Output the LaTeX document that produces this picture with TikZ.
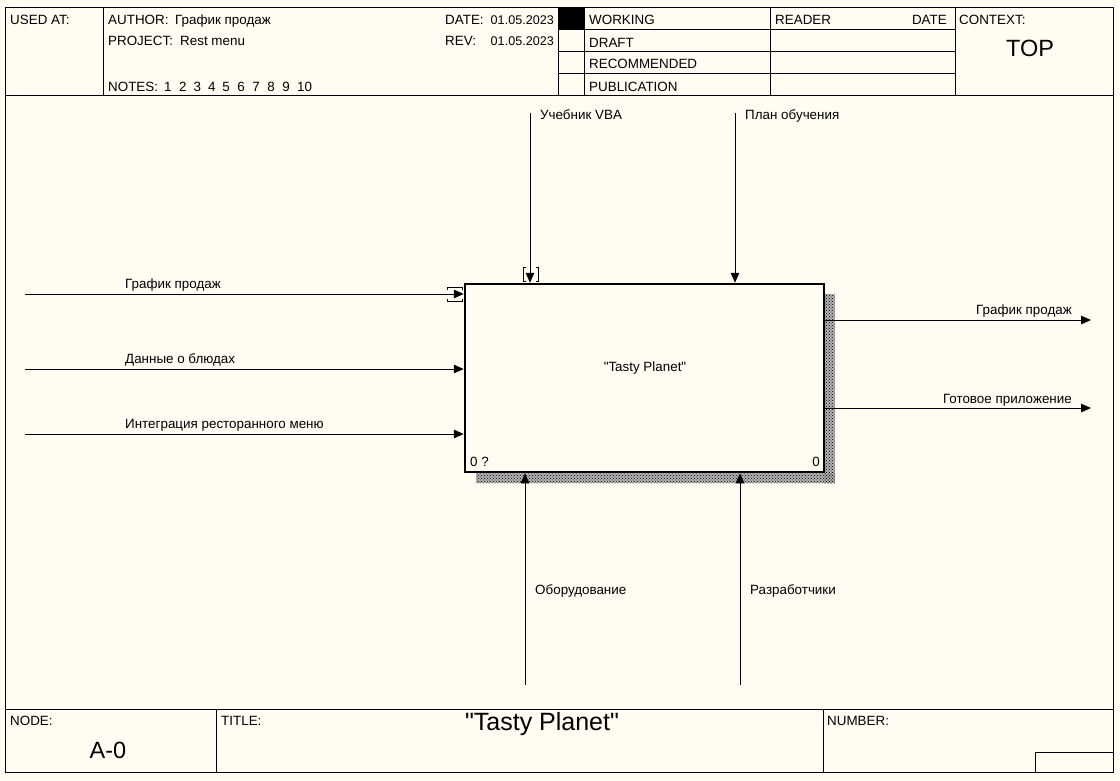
\documentclass[tikz,border=0pt]{standalone}
\usepackage{fontspec}
\setmainfont{Liberation Sans}
\newfontfamily\plainfont{Liberation Sans}
\usetikzlibrary{arrows.meta,patterns}
\definecolor{bg}{HTML}{FFFCF2}
\tikzset{
  txt/.style={font=\fontsize{13.4}{15}\selectfont, inner sep=0pt, anchor=base west},
  txtr/.style={txt, anchor=base east},
  datetxt/.style={font=\fontsize{12.6}{15}\selectfont, inner sep=0pt, anchor=base east},
  big/.style={font=\fontsize{23.5}{26}\selectfont, inner sep=0pt, anchor=base},
  frame/.style={line width=1pt},
  arr/.style={line width=1pt, -{Triangle[length=10pt,width=8.5pt]}},
  tun/.style={line width=1pt},
  shadowbase/.style={fill=black!30},
  shadow/.style={pattern=crosshatch dots, pattern color=black},
}
\begin{document}
\begin{tikzpicture}[x=1pt,y=-1pt]
\useasboundingbox (0,0) rectangle (1120,780);
\fill[bg] (0,0) rectangle (1120,780);
% outer frame
\draw[frame] (5,7) rectangle (1113,772);
\draw[frame] (5,95) -- (1113,95);
\draw[frame] (5,709) -- (1113,709);
% header grid
\draw[frame] (103,7) -- (103,95);
\draw[frame] (558,7) -- (558,95);
\draw[frame] (584,7) -- (584,95);
\draw[frame] (770,7) -- (770,95);
\draw[frame] (955,7) -- (955,95);
\draw[frame] (558,29) -- (955,29);
\draw[frame] (558,51) -- (955,51);
\draw[frame] (558,73) -- (955,73);
\fill[black] (559,7.5) rectangle (584,29);
% footer grid
\draw[frame] (216,709) -- (216,772);
\draw[frame] (823,709) -- (823,772);
\draw[frame] (1035,772) -- (1035,752) -- (1113,752);
% header text
\node[txt] (usedat) at (10,24) {USED AT:};
\node[txt] (author) at (108,24) {AUTHOR:};
\node[txt] (authorv) at (175,24) {График продаж};
\node[txt] (project) at (108,45) {PROJECT:};
\node[txt] (projectv) at (180,45) {Rest menu};
\node[txt] (notes) at (108,91) {NOTES:};
\node[txt] (notesv) at (164,91) {1\hspace{7.5pt}2\hspace{7pt}3\hspace{7pt}4\hspace{7pt}5\hspace{7.5pt}6\hspace{7.5pt}7\hspace{7.5pt}8\hspace{7.5pt}9\hspace{7.5pt}10};
\node[txt] (date) at (445,24) {DATE:};
\node[datetxt] (datev) at (554,24) {01.05.2023};
\node[txt] (rev) at (445,45) {REV:};
\node[datetxt] (revv) at (554,45) {01.05.2023};
\node[txt] (working) at (589,24) {WORKING};
\node[txt] (draft) at (589,47) {DRAFT};
\node[txt] (recommended) at (589,68) {RECOMMENDED};
\node[txt] (publication) at (589,91) {PUBLICATION};
\node[txt] (reader) at (775,24) {READER};
\node[txtr] (rdate) at (947,24) {DATE};
\node[txt] (context) at (959,24) {CONTEXT:};
\node[big] (top) at (1030,56) {TOP};
% footer text
\node[txt] (node) at (10,725) {NODE:};
\node[big] (nodev) at (108,758) {A-0};
\node[txt] (title) at (221,725) {TITLE:};
\node[big, font=\fontsize{25}{27}\plainfont] (titlev) at (542,730) {"Tasty Planet"};
\node[txt] (number) at (827,725) {NUMBER:};
% shadow
\fill[shadowbase] (824,294) rectangle (835,483);
\fill[shadowbase] (476,472) rectangle (835,483);
\fill[shadow] (824,294) rectangle (835,483);
\fill[shadow] (476,472) rectangle (835,483);
% main box
\node[draw, fill=bg, line width=2.5pt, minimum width=359pt, minimum height=188pt, inner sep=0pt] (A0) at (644.5,378) {};
\node[txt, anchor=center, font=\fontsize{13.4}{15}\plainfont] (A0t) at (645,368) {"Tasty Planet"};
\node[txt] (A0n) at (470,466) {0 ?};
\node[txtr] (A0c) at (820,466) {0};
% controls
\coordinate (c1) at (530,113);
\coordinate (c2) at (735,113);
\draw[arr] (c1) -- (c1 |- A0.north);
\draw[arr] (c2) -- (c2 |- A0.north);
\node[txt] (c1l) at (540,119) {Учебник VBA};
\node[txt] (c2l) at (745,119) {План обучения};
\draw[tun] (525.5,267) -- (523,267) -- (523,281) -- (525.5,281);
\draw[tun] (535.5,267) -- (538,267) -- (538,281) -- (535.5,281);
% inputs
\coordinate (i1) at (25,294);
\coordinate (i2) at (25,369);
\coordinate (i3) at (25,434);
\draw[arr] (i1) -- (i1 -| A0.west);
\draw[arr] (i2) -- (i2 -| A0.west);
\draw[arr] (i3) -- (i3 -| A0.west);
\node[txt] (i1l) at (125,288) {График продаж};
\node[txt] (i2l) at (125,363) {Данные о блюдах};
\node[txt] (i3l) at (125,428) {Интеграция ресторанного меню};
\draw[tun] (447.5,289.5) -- (447.5,287) -- (462.5,287) -- (462.5,289.5);
\draw[tun] (447.5,298.5) -- (447.5,301.5) -- (462.5,301.5) -- (462.5,298.5);
% outputs
\coordinate (o1) at (1091,320);
\coordinate (o2) at (1091,408);
\draw[arr] (o1 -| A0.east) -- (o1);
\draw[arr] (o2 -| A0.east) -- (o2);
\node[txtr] (o1l) at (1072,314) {График продаж};
\node[txtr] (o2l) at (1072,403) {Готовое приложение};
% mechanisms
\coordinate (m1) at (525,685);
\coordinate (m2) at (740,685);
\draw[arr] (m1) -- (m1 |- A0.south);
\draw[arr] (m2) -- (m2 |- A0.south);
\node[txt] (m1l) at (535,594) {Оборудование};
\node[txt] (m2l) at (750,594) {Разработчики};
\end{tikzpicture}
\end{document}
